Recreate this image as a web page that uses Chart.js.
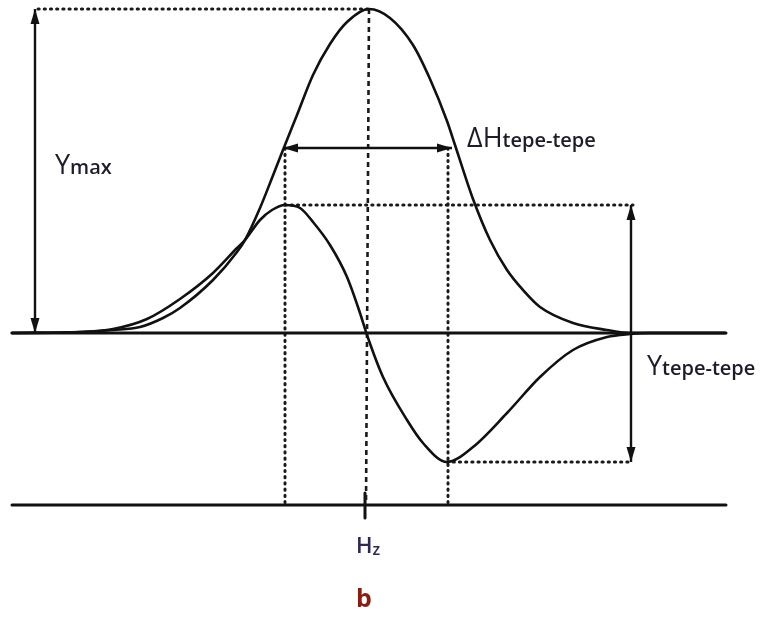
<!DOCTYPE html>
<html>
<head>
<meta charset="utf-8">
<title>EPR absorption and first derivative</title>
<script src="https://cdn.jsdelivr.net/npm/chart.js@4/dist/chart.umd.min.js"></script>
<style>
  html, body { margin: 0; padding: 0; background: #fff; }
  canvas { display: block; }
</style>
</head>
<body>
<canvas id="c" width="760" height="619"></canvas>
<script>
// Field positions (x) and signal heights above the upper baseline
const absField = [12, 80, 113, 140, 163, 180, 213, 237, 245, 260, 272, 281, 297, 313, 330, 347, 369, 390, 413, 430, 447, 455, 473, 490, 507, 523, 540, 573, 607, 630, 725];
const absSignal = [0, 1, 3, 6, 15, 25, 53, 81, 93, 125, 155, 178, 218, 258, 289, 311, 324, 315, 288, 254, 212, 188, 134, 93, 63, 43, 26, 10, 3, 0, 0];

const derField = [12, 80, 113, 147, 180, 213, 237, 245, 260, 272, 285, 300, 313, 330, 347, 360, 367, 383, 407, 423, 447, 473, 507, 540, 573, 607, 630, 650, 725];
const derSignal = [0, 1, 4, 14, 34, 60, 85, 93, 113, 123, 128, 125, 111, 88, 56, 20, -2, -44, -87, -110, -129, -114, -80, -44, -17, -4, -1, 0, 0];

// Upper trace baseline and field axis level
const BASE = 172;
const AXIS = 0;
const FIELD_START = 12;
const FIELD_END = 726;
const HALF_LEVEL = 185;   // level of the ΔH arrow above the baseline

const pts = (xs, ys, off) => xs.map((v, i) => ({ x: v, y: ys[i] + off }));

// Reference points taken from the traces
const peakIdx = absSignal.indexOf(Math.max(...absSignal));
const peakX = absField[peakIdx];
const peakY = BASE + absSignal[peakIdx];
const hiIdx = derSignal.indexOf(Math.max(...derSignal));
const loIdx = derSignal.indexOf(Math.min(...derSignal));
const hiX = derField[hiIdx], hiY = BASE + derSignal[hiIdx];
const loX = derField[loIdx], loY = BASE + derSignal[loIdx];
const centerX = 366;

const INK = '#111';

const solid = (data, width) => ({
  data, showLine: true, pointRadius: 0, borderColor: INK, borderWidth: width,
  cubicInterpolationMode: 'monotone', borderCapStyle: 'round'
});
const dotted = (data) => ({
  data, showLine: true, pointRadius: 0, borderColor: '#1a1a1a', borderWidth: 3,
  borderDash: [1.2, 5], borderCapStyle: 'round'
});

const datasets = [
  solid([{ x: FIELD_START, y: BASE }, { x: FIELD_END, y: BASE }], 3),
  solid([{ x: FIELD_START, y: AXIS }, { x: FIELD_END, y: AXIS }], 3),
  solid(pts(absField, absSignal, BASE), 2.6),
  solid(pts(derField, derSignal, BASE), 2.6),
  dotted([{ x: 38, y: peakY }, { x: peakX, y: peakY }]),
  dotted([{ x: hiX, y: BASE + HALF_LEVEL }, { x: hiX, y: AXIS }]),
  dotted([{ x: loX + 1, y: BASE + HALF_LEVEL }, { x: loX + 1, y: AXIS }]),
  dotted([{ x: hiX, y: hiY }, { x: 633, y: hiY }]),
  dotted([{ x: loX, y: loY }, { x: 633, y: loY }]),
  Object.assign(dotted([{ x: peakX, y: peakY }, { x: centerX, y: AXIS }]), { borderDash: [5, 4], borderCapStyle: 'butt', borderWidth: 2.6 }),
  solid([{ x: centerX - 1, y: AXIS + 12 }, { x: centerX - 1, y: AXIS - 13 }], 3)
];

// Double-headed measurement arrows
const arrows = [
  [{ x: 35, y: BASE }, { x: 35, y: peakY }],
  [{ x: hiX - 2, y: BASE + HALF_LEVEL }, { x: loX + 5, y: BASE + HALF_LEVEL }],
  [{ x: 631, y: hiY }, { x: 631, y: loY }]
];

// Text labels: main symbol plus subscript
const labels = [
  { x: 55, y: 331, main: 'Y', sub: 'max', size: 27, subSize: 20, drop: 0, color: '#1c1c2c' },
  { x: 467, y: 358, main: 'ΔH', sub: 'tepe-tepe', size: 27, subSize: 20, drop: 0, color: '#1c1c2c' },
  { x: 647, y: 130, main: 'Y', sub: 'tepe-tepe', size: 27, subSize: 20, drop: 0, color: '#1c1c2c' },
  { x: 356, y: -48, main: 'H', sub: 'z', size: 22, subSize: 16, drop: 2, color: '#2c2858', weight: 600, subWeight: 600 },
  { x: 356, y: -102, main: 'b', sub: '', size: 25, subSize: 0, drop: 0, color: '#8a1c10', weight: 700 }
];

function head(ctx, tx, ty, fx, fy) {
  const a = Math.atan2(ty - fy, tx - fx);
  const len = 15, half = 4.5;
  ctx.beginPath();
  ctx.moveTo(tx, ty);
  ctx.lineTo(tx - len * Math.cos(a) + half * Math.sin(a), ty - len * Math.sin(a) - half * Math.cos(a));
  ctx.lineTo(tx - len * Math.cos(a) - half * Math.sin(a), ty - len * Math.sin(a) + half * Math.cos(a));
  ctx.closePath();
  ctx.fill();
}

const annotations = {
  id: 'annotations',
  afterDatasetsDraw(chart) {
    const { ctx, scales: { x, y } } = chart;
    ctx.save();
    ctx.strokeStyle = INK;
    ctx.fillStyle = INK;
    ctx.lineWidth = 2.4;
    arrows.forEach(([p, q]) => {
      const x1 = x.getPixelForValue(p.x), y1 = y.getPixelForValue(p.y);
      const x2 = x.getPixelForValue(q.x), y2 = y.getPixelForValue(q.y);
      ctx.beginPath();
      ctx.moveTo(x1, y1);
      ctx.lineTo(x2, y2);
      ctx.stroke();
      head(ctx, x1, y1, x2, y2);
      head(ctx, x2, y2, x1, y1);
    });

    ctx.textBaseline = 'alphabetic';
    ctx.textAlign = 'left';
    labels.forEach(l => {
      const px = x.getPixelForValue(l.x), py = y.getPixelForValue(l.y);
      ctx.fillStyle = l.color;
      ctx.font = `${l.weight || 400} ${l.size}px "Open Sans", sans-serif`;
      ctx.fillText(l.main, px, py);
      if (l.sub) {
        const w = ctx.measureText(l.main).width;
        ctx.font = `${l.subWeight || 600} ${l.subSize}px "Open Sans", sans-serif`;
        ctx.fillText(l.sub, px + w, py + l.drop);
      }
    });
    ctx.restore();
  }
};

new Chart(document.getElementById('c'), {
  type: 'scatter',
  data: { datasets },
  options: {
    responsive: false,
    animation: false,
    devicePixelRatio: 1,
    layout: { padding: 0 },
    plugins: { legend: { display: false }, tooltip: { enabled: false } },
    scales: {
      x: { type: 'linear', min: 0, max: 760, display: false },
      y: { type: 'linear', min: -114, max: 505, display: false }
    }
  },
  plugins: [annotations]
});
</script>
</body>
</html>
